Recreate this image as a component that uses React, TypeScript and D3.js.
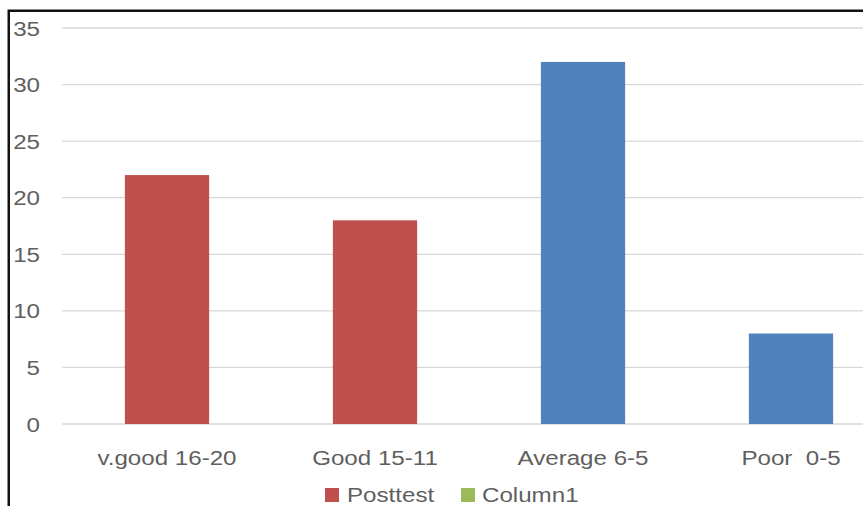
import React from "react";
import * as d3 from "d3";

const categories = ["v.good 16-20", "Good 15-11", "Average 6-5", "Poor  0-5"];
const posttest = [22, 18, 32, 8];
const barColors = ["#C0504D", "#C0504D", "#4F81BD", "#4F81BD"];
const yTicks = [0, 5, 10, 15, 20, 25, 30, 35];
const legendItems = ["Posttest", "Column1"];
const legendColors = ["#C0504D", "#9BBB59"];

const W = 863;
const H = 506;
const FONT = "'Liberation Sans', Arial, sans-serif";
const TEXT = "#5f5f5f";
const SX = 1.15;

export default function App() {
  const y = d3.scaleLinear().domain([0, 35]).range([424, 28]);
  const x = d3.scaleBand<string>().domain(categories).range([63, 895]).padding(0);
  const barW = x.bandwidth() * 0.405;

  const label = (tx: number, ty: number, s: string, anchor: string, key?: string | number) => (
    <g key={key} transform={`translate(${tx},${ty}) scale(${SX},1)`}>
      <text
        x={0}
        y={0}
        textAnchor={anchor}
        fontFamily={FONT}
        fontSize={21}
        fill={TEXT}
        style={{ whiteSpace: "pre" }}
      >
        {s}
      </text>
    </g>
  );

  return (
    <svg width={W} height={H} style={{ position: "absolute", left: 0, top: 0, background: "#fff" }}>
      <rect x={0} y={0} width={W} height={H} fill="#fff" />
      {/* gridlines */}
      {yTicks.map((t) => (
        <line key={t} x1={62} x2={W} y1={y(t)} y2={y(t)} stroke="#D9D9D9" strokeWidth={1.3} />
      ))}
      {/* bars */}
      {categories.map((c, i) => (
        <rect
          key={c}
          x={(x(c) as number) + x.bandwidth() / 2 - barW / 2}
          y={y(posttest[i])}
          width={barW}
          height={y(0) - y(posttest[i])}
          fill={barColors[i]}
        />
      ))}
      {/* y axis labels */}
      {yTicks.map((t) => label(40, y(t) + 7.5, String(t), "end", "y" + t))}
      {/* x axis labels */}
      {categories.map((c) => label((x(c) as number) + x.bandwidth() / 2, 465, c, "middle", "x" + c))}
      {/* legend */}
      <rect x={325} y={488} width={14} height={14} fill={legendColors[0]} />
      {label(347, 502, legendItems[0], "start", "l0")}
      <rect x={461} y={488} width={14} height={14} fill={legendColors[1]} />
      {label(482, 502, legendItems[1], "start", "l1")}
      {/* chart frame */}
      <rect x={8.75} y={10.75} width={W + 20} height={H + 20} fill="none" stroke="#111" strokeWidth={2.5} />
    </svg>
  );
}
